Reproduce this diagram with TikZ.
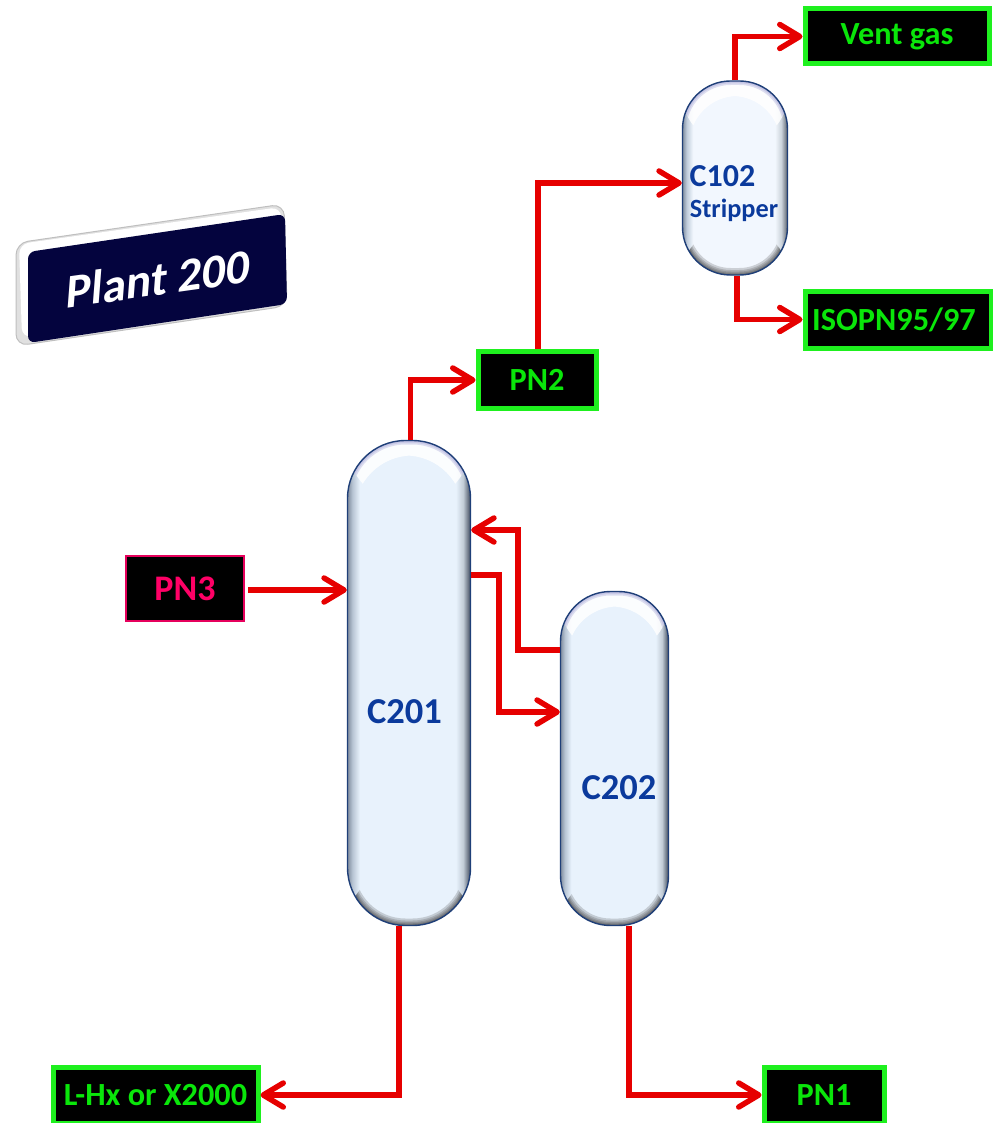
\documentclass[tikz,border=0pt]{standalone}
\usepackage{fontspec}
\setmainfont{Carlito}
\newfontface\plantface{Carlito Bold}[FakeSlant=0.22]
\usetikzlibrary{arrows.meta,fadings,calc}
\definecolor{pipered}{HTML}{E60000}
\definecolor{boxgreen}{HTML}{1EF01E}
\definecolor{txtgreen}{HTML}{0AE60A}
\definecolor{pinkline}{HTML}{E6005C}
\definecolor{pinktxt}{HTML}{FF0066}
\definecolor{vesselline}{HTML}{1F3F78}
\definecolor{vesseltxt}{HTML}{0B3A9C}
\definecolor{navy}{HTML}{04043E}
\pgfdeclarehorizontalshading{vesselh}{100bp}{
 rgb(0bp)=(.50,.55,.62); rgb(25bp)=(.50,.55,.62); rgb(27bp)=(.72,.77,.83); rgb(30bp)=(.91,.95,.99);
 rgb(69bp)=(.91,.95,.99); rgb(72bp)=(.76,.80,.84); rgb(74bp)=(.42,.46,.52); rgb(75bp)=(.25,.29,.36); rgb(100bp)=(.25,.29,.36)}
\pgfdeclarehorizontalshading{vesselpale}{100bp}{
 rgb(0bp)=(.50,.55,.62); rgb(25bp)=(.50,.55,.62); rgb(27bp)=(.75,.80,.86); rgb(30bp)=(.95,.97,.995);
 rgb(69bp)=(.95,.97,.995); rgb(72bp)=(.80,.83,.86); rgb(74bp)=(.50,.53,.57); rgb(75bp)=(.30,.33,.38); rgb(100bp)=(.30,.33,.38)}
\newcommand{\vesselpaint}[1]{%
  \coordinate (vnw) at (path picture bounding box.north west);
  \coordinate (vse) at (path picture bounding box.south east);
  \coordinate (vsw) at (path picture bounding box.south west);
  \coordinate (vne) at (path picture bounding box.north east);
  % white crescent under the top
  \begin{scope}
    \clip (vnw) rectangle ($(vne)+(0,62)$);
    \fill[white,opacity=.85,even odd rule]
      (vnw) rectangle ($(vne)+(0,300)$)
      [rounded corners=#1] ($(vnw)+(7,15)$) rectangle ($(vne)+(-7,300)$);
    \foreach \lw in {8,5,2.5}
      \draw[black!45!blue!35!white,opacity=.35,line width=\lw pt,rounded corners=#1] (vnw) rectangle ($(vne)+(0,300)$);
  \end{scope}
  % dark shade that follows the bottom curve
  \begin{scope}
    \clip ($(vsw)+(0,-#1)$) rectangle (vse);
    \foreach \lw in {14,10,7,4.5,2.5}
      \draw[black!80,opacity=.2,line width=\lw pt,rounded corners=#1] ($(vsw)+(0,-300)$) rectangle (vse);
  \end{scope}
}
\tikzset{
  pipe/.style={draw=pipered,line width=5.5pt,line join=miter},
  pipehead/.style={pipe,-{Straight Barb[length=20pt,width=24pt,line cap=round,line join=round]}},
  vessel/.style={draw=vesselline,line width=1.4pt,rounded corners=#1,inner sep=0pt,shading=vesselh,
     path picture={\vesselpaint{#1}}},
  greenbox/.style={draw=boxgreen,fill=black,line width=5pt,inner sep=0pt,text=txtgreen,font=\bfseries\fontsize{32.3}{33}\selectfont},
  pinkbox/.style={draw=pinkline,fill=black,line width=2.5pt,inner sep=0pt,text=pinktxt,font=\bfseries\fontsize{36}{37}\selectfont},
  vesseltext/.style={text=vesseltxt,inner sep=0pt,font=\bfseries\fontsize{36.5}{37}\selectfont},
}
\begin{document}
\begin{tikzpicture}[x=1pt,y=-1pt]
\useasboundingbox (0,0) rectangle (992,1123);
% vessels
\node[vessel=58,minimum width=123pt,minimum height=485pt] (c201) at (409,683) {};
\node[vessel=50,minimum width=108pt,minimum height=334pt] (c202) at (614.5,758.5) {};
\node[vessel=48,shading=vesselpale,minimum width=105pt,minimum height=194pt] (c102) at (735,178) {};
\node[vesseltext] (c201t) at (404.5,712) {C201};
\node[vesseltext] (c202t) at (619,788) {C202};
\node[vesseltext,font=\bfseries\fontsize{32}{33}\selectfont] (c102t) at (722.5,176) {C102};
\node[vesseltext,font=\bfseries\fontsize{26.3}{27}\selectfont] (c102s) at (734,210) {Stripper};
% stream boxes
\node[greenbox,minimum width=184pt,minimum height=55pt] (vent) at (897,36.5) {\raisebox{2pt}{Vent gas}};
\node[greenbox,minimum width=186pt,minimum height=57pt] (iso) at (898,319.5) {\hspace*{-8pt}ISOPN95/97};
\node[greenbox,minimum width=118pt,minimum height=57pt] (pn2) at (537,380) {PN2};
\node[greenbox,minimum width=205pt,minimum height=56pt] (lhx) at (155.5,1095) {L-Hx or X2000};
\node[greenbox,minimum width=120pt,minimum height=56pt] (pn1) at (824,1095) {PN1};
\node[pinkbox,minimum width=118pt,minimum height=65pt] (pn3) at (185,588.5) {PN3};
% connectors
\coordinate (pn3out) at ([xshift=3pt,yshift=-1.5pt]pn3.east);
\draw[pipehead] ([xshift=1.5pt]c201.north) |- (pn2.west);
\draw[pipehead] ([xshift=1pt]pn2.north) |- ([yshift=-5pt]c102.west);
\draw[pipehead] (c102.north) |- (vent.west);
\draw[pipehead] ([xshift=2pt]c102.south) |- (iso.west);
\draw[pipehead] (pn3out) -- (pn3out -| c201.west);
\draw[pipehead] ([yshift=108.5pt]c202.west) -- ++(-42,0) |- ([yshift=153pt]c201.east);
\draw[pipehead] ([yshift=108pt]c201.east) -- ++(28,0) |- ([yshift=46.5pt]c202.west);
\draw[pipehead] ([xshift=-10pt]c201.south) |- (lhx.east);
\draw[pipehead] ([xshift=14.5pt]c202.south) |- (pn1.west);
% plant badge
\filldraw[draw=black!25,line width=1pt,fill=black!12,rounded corners=12pt]
  (16,243) -- (284,204) -- (287,306) -- (16,346) -- cycle;
\fill[white,rounded corners=10pt] (19,244) -- (281,207) -- (283,300) -- (22,338) -- cycle;
\fill[navy,rounded corners=7pt] (28,252) -- (285,214) -- (287,304) -- (28,343) -- cycle;
\node[text=white,rotate=8,inner sep=0pt,font=\plantface\fontsize{47.5}{48}\selectfont] (plant) at (155,279) {Plant 200};
\end{tikzpicture}
\end{document}
